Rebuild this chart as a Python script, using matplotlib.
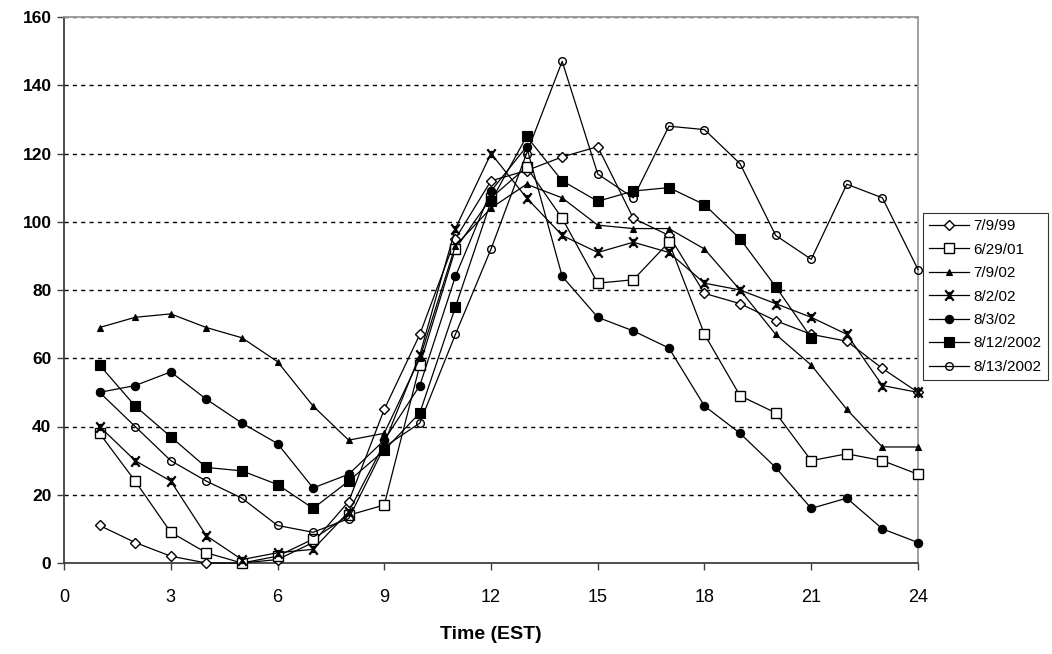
import numpy as np
import matplotlib
matplotlib.use("Agg")
import matplotlib.pyplot as plt
from matplotlib.path import Path
from matplotlib.markers import MarkerStyle

plt.rcParams['font.family'] = ['Liberation Sans', 'DejaVu Sans']

hours = list(range(1, 25))
labels = ["7/9/99", "6/29/01", "7/9/02", "8/2/02", "8/3/02", "8/12/2002", "8/13/2002"]
s_7_9_99 = [11, 6, 2, 0, 0, 1, 6, 18, 45, 67, 95, 112, 115, 119, 122, 101, 96, 79, 76, 71, 67, 65, 57, 50]
s_6_29_01 = [38, 24, 9, 3, 0, 2, 7, 14, 17, 58, 92, 107, 116, 101, 82, 83, 94, 67, 49, 44, 30, 32, 30, 26]
s_7_9_02 = [69, 72, 73, 69, 66, 59, 46, 36, 38, 60, 93, 104, 111, 107, 99, 98, 98, 92, 80, 67, 58, 45, 34, 34]
s_8_2_02 = [40, 30, 24, 8, 1, 3, 4, 15, 35, 61, 98, 120, 107, 96, 91, 94, 91, 82, 80, 76, 72, 67, 52, 50]
s_8_3_02 = [50, 52, 56, 48, 41, 35, 22, 26, 36, 52, 84, 109, 122, 84, 72, 68, 63, 46, 38, 28, 16, 19, 10, 6]
s_8_12_2002 = [58, 46, 37, 28, 27, 23, 16, 24, 33, 44, 75, 106, 125, 112, 106, 109, 110, 105, 95, 81, 66,
               np.nan, np.nan, np.nan]
s_8_13_2002 = [50, 40, 30, 24, 19, 11, 9, 13, 34, 41, 67, 92, 120, 147, 114, 107, 128, 127, 117, 96, 89, 111, 107, 86]
x_ticks = [0, 3, 6, 9, 12, 15, 18, 21, 24]
y_ticks = [0, 20, 40, 60, 80, 100, 120, 140, 160]

series = [s_7_9_99, s_6_29_01, s_7_9_02, s_8_2_02, s_8_3_02, s_8_12_2002, s_8_13_2002]

# Excel-like "X" marker (x with a short vertical bar), stroked only
xpath = Path([(-0.8, -1), (0.8, 1), (-0.8, 1), (0.8, -1), (0, -0.7), (0, 0.7)],
             [Path.MOVETO, Path.LINETO, Path.MOVETO, Path.LINETO, Path.MOVETO, Path.LINETO])
xmark = MarkerStyle(xpath, fillstyle='none')

styles = [
    dict(marker='D', ms=5.5, mfc='white', mec='black', mew=1.0),
    dict(marker='s', ms=7, mfc='white', mec='black', mew=1.0),
    dict(marker='^', ms=4.5, mfc='black', mec='black', mew=0.8),
    dict(marker=xmark, ms=7.5, mec='black', mew=1.6),
    dict(marker='o', ms=6, mfc='black', mec='black', mew=0.8),
    dict(marker='s', ms=7, mfc='black', mec='black', mew=0.8),
    dict(marker='o', ms=5.5, mfc='none', mec='black', mew=1.0),
]

fig = plt.figure(figsize=(10.52, 6.54), dpi=100)
ax = fig.add_axes([64 / 1052, 1 - 563 / 654, (918 - 64) / 1052, (563 - 17) / 654])

for vals, lab, st in zip(series, labels, styles):
    ax.plot(hours, vals, color='black', lw=0.9, label=lab, clip_on=False, zorder=3, **st)

ax.set_xlim(0, 24)
ax.set_ylim(0, 160)
ax.set_xticks(x_ticks)
ax.set_yticks(y_ticks)
ax.set_xticklabels([str(v) for v in x_ticks], fontsize=13)
ax.set_yticklabels([str(v) for v in y_ticks], fontsize=12.5, fontweight='bold')

for y in y_ticks[1:]:
    ax.axhline(y, color='black', lw=1.0, ls=(0, (3, 3)), zorder=1)

ax.spines['left'].set_color('#404040')
ax.spines['bottom'].set_color('#404040')
ax.spines['left'].set_linewidth(1.3)
ax.spines['bottom'].set_linewidth(1.3)
ax.spines['top'].set_color('#999999')
ax.spines['right'].set_color('#999999')
ax.spines['top'].set_linewidth(1.3)
ax.spines['right'].set_linewidth(1.3)
ax.tick_params(axis='both', direction='out', length=5, width=1.0, color='#404040', pad=4)
ax.tick_params(axis='x', pad=14)

ax.set_xlabel('Time (EST)', fontsize=14, fontweight='bold', labelpad=14)

leg = ax.legend(loc='upper left', bbox_to_anchor=(923 / 1052, 1 - 213 / 654), bbox_transform=fig.transFigure,
                fontsize=11, frameon=True, fancybox=False, edgecolor='black', borderpad=0.4,
                handlelength=2.6, handletextpad=0.3, labelspacing=0.62, borderaxespad=0)
leg.get_frame().set_linewidth(0.8)

fig.savefig('out.png', dpi=100)
